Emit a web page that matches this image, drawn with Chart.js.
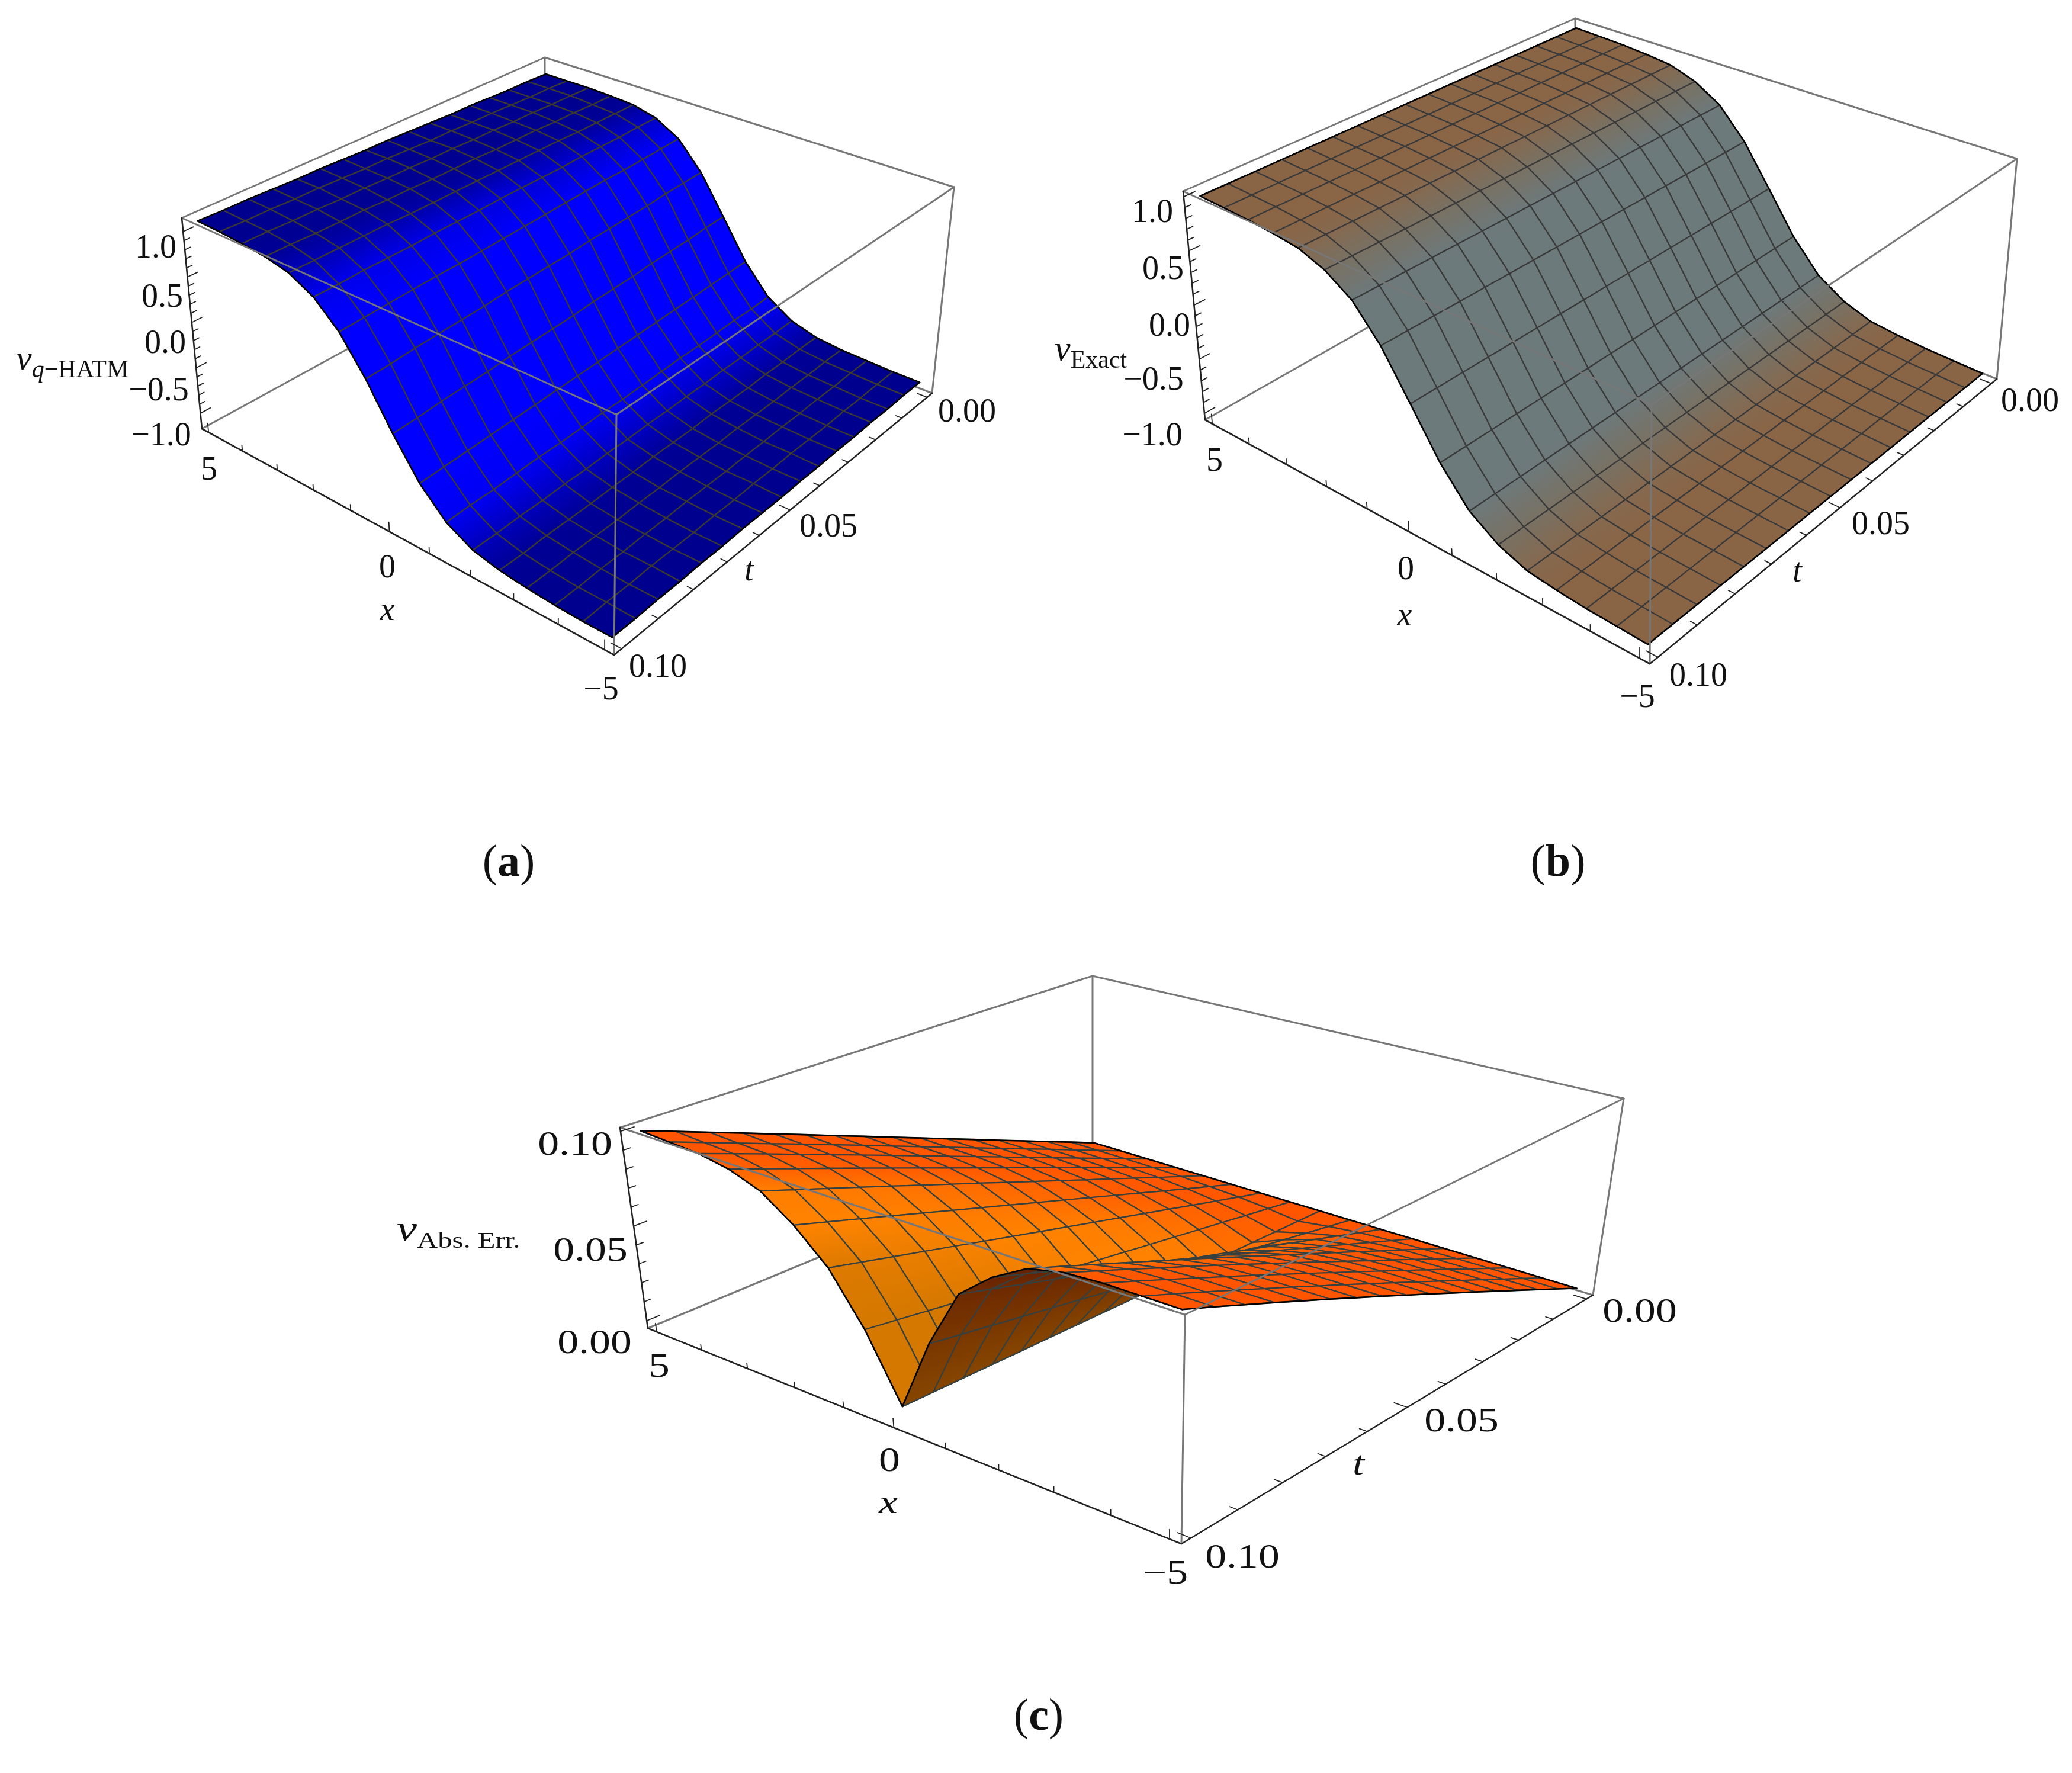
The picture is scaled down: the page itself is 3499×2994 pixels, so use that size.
<!DOCTYPE html>
<html>
<head>
<meta charset="utf-8">
<title>Surface plots</title>
<script src="https://cdn.jsdelivr.net/npm/chart.js@4/dist/chart.umd.js"></script>
<style>
    html, body { margin: 0; padding: 0; background: #fff; }
    canvas { display: block; }
</style>
</head>
<body>
<canvas id="chart" width="3499" height="2994"></canvas>
<script>
// ─────────────────────────────────────────────
// Three surface plots drawn as line datasets on one page-sized chart
// ─────────────────────────────────────────────

// Mesh nodes
const xGrid = [-5, -4.375, -3.75, -3.125, -2.5, -1.875, -1.25, -0.625, 0, 0.625, 1.25, 1.875, 2.5, 3.125, 3.75, 4.375, 5];
const tGrid = [0, 0.00625, 0.0125, 0.01875, 0.025, 0.03125, 0.0375, 0.04375, 0.05, 0.05625, 0.0625, 0.06875, 0.075, 0.08125, 0.0875, 0.09375, 0.1];

// Panel (a): one row per t, one column per x
const vHatm = [
    [-1.04, -1.04, -1.03, -1.02, -0.99, -0.91, -0.74, -0.43, 0, 0.43, 0.74, 0.90, 0.97, 0.99, 1.00, 1.00, 1.00],
    [-1.04, -1.04, -1.03, -1.02, -0.99, -0.92, -0.75, -0.44, -0.01, 0.42, 0.73, 0.90, 0.97, 0.99, 1.01, 1.01, 1.01],
    [-1.05, -1.05, -1.04, -1.03, -1.00, -0.92, -0.75, -0.45, -0.03, 0.41, 0.72, 0.89, 0.97, 1.00, 1.01, 1.01, 1.01],
    [-1.05, -1.05, -1.04, -1.03, -1.00, -0.93, -0.76, -0.46, -0.04, 0.39, 0.71, 0.89, 0.97, 1.00, 1.02, 1.02, 1.02],
    [-1.06, -1.06, -1.05, -1.04, -1.01, -0.93, -0.77, -0.47, -0.05, 0.38, 0.71, 0.89, 0.98, 1.01, 1.02, 1.03, 1.03],
    [-1.06, -1.06, -1.05, -1.04, -1.01, -0.94, -0.77, -0.48, -0.07, 0.37, 0.70, 0.88, 0.98, 1.01, 1.03, 1.03, 1.03],
    [-1.07, -1.06, -1.06, -1.04, -1.01, -0.94, -0.78, -0.49, -0.08, 0.36, 0.69, 0.88, 0.98, 1.01, 1.03, 1.04, 1.04],
    [-1.07, -1.07, -1.06, -1.05, -1.02, -0.95, -0.79, -0.50, -0.09, 0.34, 0.68, 0.88, 0.98, 1.02, 1.04, 1.04, 1.05],
    [-1.08, -1.07, -1.07, -1.05, -1.02, -0.95, -0.80, -0.51, -0.11, 0.33, 0.67, 0.88, 0.98, 1.02, 1.04, 1.05, 1.06],
    [-1.08, -1.08, -1.07, -1.05, -1.02, -0.96, -0.80, -0.52, -0.12, 0.32, 0.66, 0.87, 0.98, 1.02, 1.05, 1.06, 1.06],
    [-1.08, -1.08, -1.07, -1.06, -1.03, -0.96, -0.81, -0.53, -0.13, 0.31, 0.65, 0.87, 0.98, 1.03, 1.05, 1.06, 1.07],
    [-1.09, -1.09, -1.08, -1.06, -1.03, -0.97, -0.82, -0.54, -0.14, 0.29, 0.64, 0.87, 0.98, 1.03, 1.06, 1.07, 1.08],
    [-1.09, -1.09, -1.08, -1.07, -1.04, -0.97, -0.82, -0.55, -0.16, 0.28, 0.64, 0.86, 0.99, 1.04, 1.06, 1.08, 1.08],
    [-1.10, -1.09, -1.09, -1.07, -1.04, -0.98, -0.83, -0.56, -0.17, 0.27, 0.63, 0.86, 0.99, 1.04, 1.07, 1.08, 1.09],
    [-1.10, -1.10, -1.09, -1.07, -1.04, -0.98, -0.84, -0.57, -0.18, 0.26, 0.62, 0.86, 0.99, 1.04, 1.07, 1.09, 1.10],
    [-1.11, -1.10, -1.10, -1.08, -1.05, -0.99, -0.84, -0.58, -0.20, 0.24, 0.61, 0.85, 0.99, 1.05, 1.08, 1.09, 1.10],
    [-1.11, -1.11, -1.10, -1.08, -1.05, -0.99, -0.85, -0.59, -0.21, 0.23, 0.60, 0.85, 0.99, 1.05, 1.08, 1.10, 1.11],
];

// Panel (b): v read along x, no visible change along t
const vExact = [-1.00, -0.99, -0.98, -0.96, -0.93, -0.84, -0.68, -0.39, 0, 0.39, 0.68, 0.84, 0.93, 0.96, 0.98, 0.99, 1.00];

// Panel (c): one row per t, one column per x
const vAbsErr = [
    [0, 0, 0, 0, 0, 0, 0, 0, 0, 0, 0, 0, 0, 0, 0, 0, 0],
    [0.0063, 0.0063, 0.0063, 0.0062, 0.0059, 0.0053, 0.0044, 0.0026, 0.0003, 0.0023, 0.0038, 0.0048, 0.0056, 0.0059, 0.0061, 0.0062, 0.0063],
    [0.0125, 0.0125, 0.0125, 0.0124, 0.0119, 0.0106, 0.0089, 0.0051, 0.0005, 0.0045, 0.0076, 0.0096, 0.0111, 0.0119, 0.0123, 0.0124, 0.0125],
    [0.0188, 0.0188, 0.0188, 0.0186, 0.0178, 0.0159, 0.0133, 0.0077, 0.0008, 0.0068, 0.0114, 0.0144, 0.0167, 0.0178, 0.0184, 0.0186, 0.0188],
    [0.0250, 0.0250, 0.0250, 0.0248, 0.0238, 0.0213, 0.0178, 0.0103, 0.0010, 0.0090, 0.0153, 0.0193, 0.0223, 0.0238, 0.0245, 0.0248, 0.0250],
    [0.0313, 0.0313, 0.0313, 0.0309, 0.0297, 0.0266, 0.0222, 0.0128, 0.0013, 0.0113, 0.0191, 0.0241, 0.0278, 0.0297, 0.0306, 0.0309, 0.0313],
    [0.0375, 0.0375, 0.0375, 0.0371, 0.0356, 0.0319, 0.0266, 0.0154, 0.0015, 0.0135, 0.0229, 0.0289, 0.0334, 0.0356, 0.0368, 0.0371, 0.0375],
    [0.0438, 0.0438, 0.0438, 0.0433, 0.0416, 0.0372, 0.0311, 0.0179, 0.0018, 0.0158, 0.0267, 0.0337, 0.0389, 0.0416, 0.0429, 0.0433, 0.0438],
    [0.0500, 0.0500, 0.0500, 0.0495, 0.0475, 0.0425, 0.0355, 0.0205, 0.0020, 0.0180, 0.0305, 0.0385, 0.0445, 0.0475, 0.0490, 0.0495, 0.0500],
    [0.0563, 0.0563, 0.0563, 0.0557, 0.0534, 0.0478, 0.0399, 0.0231, 0.0023, 0.0203, 0.0343, 0.0433, 0.0501, 0.0534, 0.0551, 0.0557, 0.0563],
    [0.0625, 0.0625, 0.0625, 0.0619, 0.0594, 0.0531, 0.0444, 0.0256, 0.0025, 0.0225, 0.0381, 0.0481, 0.0556, 0.0594, 0.0613, 0.0619, 0.0625],
    [0.0688, 0.0688, 0.0688, 0.0681, 0.0653, 0.0584, 0.0488, 0.0282, 0.0028, 0.0248, 0.0419, 0.0529, 0.0612, 0.0653, 0.0674, 0.0681, 0.0688],
    [0.0750, 0.0750, 0.0750, 0.0743, 0.0713, 0.0638, 0.0533, 0.0308, 0.0030, 0.0270, 0.0458, 0.0578, 0.0668, 0.0713, 0.0735, 0.0743, 0.0750],
    [0.0813, 0.0813, 0.0813, 0.0804, 0.0772, 0.0691, 0.0577, 0.0333, 0.0033, 0.0293, 0.0496, 0.0626, 0.0723, 0.0772, 0.0796, 0.0804, 0.0813],
    [0.0875, 0.0875, 0.0875, 0.0866, 0.0831, 0.0744, 0.0621, 0.0359, 0.0035, 0.0315, 0.0534, 0.0674, 0.0779, 0.0831, 0.0858, 0.0866, 0.0875],
    [0.0938, 0.0938, 0.0938, 0.0928, 0.0891, 0.0797, 0.0666, 0.0384, 0.0038, 0.0338, 0.0572, 0.0722, 0.0834, 0.0891, 0.0919, 0.0928, 0.0938],
    [0.1000, 0.1000, 0.1000, 0.0990, 0.0950, 0.0850, 0.0710, 0.0410, 0.0040, 0.0360, 0.0610, 0.0770, 0.0890, 0.0950, 0.0980, 0.0990, 0.1000],
];

// Axis ticks
const xTicks = [-5, -4, -3, -2, -1, 0, 1, 2, 3, 4, 5];
const xMajor = [-5, 0, 5];
const tTicks = [0, 0.01, 0.02, 0.03, 0.04, 0.05, 0.06, 0.07, 0.08, 0.09, 0.1];
const tMajor = [0, 0.05, 0.1];
const vTicks = [-1, -0.9, -0.8, -0.7, -0.6, -0.5, -0.4, -0.3, -0.2, -0.1, 0, 0.1, 0.2, 0.3, 0.4, 0.5, 0.6, 0.7, 0.8, 0.9, 1];
const vMajor = [-1, -0.5, 0, 0.5, 1];
const errTicks = [0, 0.01, 0.02, 0.03, 0.04, 0.05, 0.06, 0.07, 0.08, 0.09, 0.1];
const errMajor = [0, 0.05, 0.1];

// Tick labels
const xLabels = ["\u22125", "0", "5"];
const tLabels = ["0.00", "0.05", "0.10"];
const vLabels = ["\u22121.0", "\u22120.5", "0.0", "0.5", "1.0"];
const errLabels = ["0.00", "0.05", "0.10"];

// ═══════════════════════════════════════════════
// PANEL LAYOUT — box corners and text spots on the page
// ═══════════════════════════════════════════════
const SERIF = '"Liberation Serif"';

const PANELS = [
    {
        rows: vHatm,
        zRange: [-1.17, 1.15],
        zTicks: vTicks, zMajor: vMajor,
        bottom: { bl: [341, 724], f: [1037, 1106], br: [1574, 664], bb: [920, 407] },
        top:    { bl: [307, 368], f: [1041, 700],  br: [1611, 316], bb: [920, 97] },
        palette: { flat: [0, 0, 143], steep: [0, 0, 255] },
        mesh: "#3d3a30",
        zText: vLabels,
        zPos: [[272, 737], [268, 661], [279, 581], [274, 503], [263, 420]],
        xPos: [[1015, 1166], [654, 960], [353, 795]],
        tPos: [[1633, 697], [1399, 891], [1111, 1128]],
        xName: [654, 1032], tName: [1265, 965],
        vName: { x: 27, y: 612, size: 42, sub: [{ t: "q", italic: true }, { t: "\u2212HATM" }] },
        caption: { t: "a", x: 859, y: 1459 },
        textStretch: 1,
    },
    {
        rows: tGrid.map(() => vExact),
        zRange: [-1.06, 1.05],
        zTicks: vTicks, zMajor: vMajor,
        bottom: { bl: [2035, 709], f: [2786, 1121], br: [3372, 640], bb: [2660, 354] },
        top:    { bl: [1998, 323], f: [2789, 683],  br: [3406, 268], bb: [2660, 31] },
        palette: { flat: [138, 101, 69], steep: [108, 122, 124] },
        mesh: "#3a3a3a",
        zText: vLabels,
        zPos: [[1946, 737], [1948, 643], [1975, 552], [1964, 456], [1946, 360]],
        xPos: [[2765, 1179], [2374, 963], [2051, 780]],
        tPos: [[3428, 679], [3176, 887], [2868, 1143]],
        xName: [2372, 1041], tName: [3035, 967],
        vName: { x: 1781, y: 596, size: 42, sub: [{ t: "Exact" }] },
        caption: { t: "b", x: 2631, y: 1459 },
        textStretch: 1,
    },
    {
        rows: vAbsErr,
        zRange: [-0.004, 0.102],
        zTicks: errTicks, zMajor: errMajor,
        bottom: { bl: [1094, 2243], f: [1995, 2607], br: [2690, 2187], bb: [1845, 1931] },
        top:    { bl: [1047, 1904], f: [2001, 2220], br: [2742, 1855], bb: [1845, 1648] },
        palette: { flat: [255, 85, 0], steep: [255, 132, 0], deep: [212, 120, 0], backFlat: [135, 72, 0], backSteep: [100, 30, 0] },
        mesh: "#36403f",
        zText: errLabels,
        zPos: [[1004, 2270], [997, 2114], [971, 1935]],
        xPos: [[1968, 2659], [1502, 2469], [1113, 2310]],
        tPos: [[2769, 2217], [2468, 2402], [2098, 2632]],
        xName: [1500, 2540], tName: [2294, 2475],
        vName: { x: 670, y: 2082, size: 38, sub: [{ t: "Abs. Err." }] },
        caption: { t: "c", x: 1754, y: 2901 },
        textStretch: 1.28,
    },
];

const X_BOX = [-5.2, 5.2];
const T_BOX = [-0.002, 0.102];

// ═══════════════════════════════════════════════
// PROJECTION — plot coordinates to page coordinates
// ═══════════════════════════════════════════════

// Unit square to quad, corners at (0,0) (1,0) (1,1) (0,1)
function squareToQuad(p00, p10, p11, p01) {
    const dx1 = p10[0] - p11[0], dx2 = p01[0] - p11[0], sx = p00[0] - p10[0] + p11[0] - p01[0];
    const dy1 = p10[1] - p11[1], dy2 = p01[1] - p11[1], sy = p00[1] - p10[1] + p11[1] - p01[1];
    const det = dx1 * dy2 - dx2 * dy1;
    const g = (sx * dy2 - dx2 * sy) / det;
    const h = (dx1 * sy - sx * dy1) / det;
    const a = p10[0] - p00[0] + g * p10[0], b = p01[0] - p00[0] + h * p01[0];
    const d = p10[1] - p00[1] + g * p10[1], e = p01[1] - p00[1] + h * p01[1];
    return (u, w) => {
        const q = g * u + h * w + 1;
        return [(a * u + b * w + p00[0]) / q, (d * u + e * w + p00[1]) / q];
    };
}

function makeProjector(panel) {
    const low  = squareToQuad(panel.bottom.bb, panel.bottom.br, panel.bottom.f, panel.bottom.bl);
    const high = squareToQuad(panel.top.bb, panel.top.br, panel.top.f, panel.top.bl);
    const [zMin, zMax] = panel.zRange;
    return (x, t, z) => {
        const u = (X_BOX[1] - x) / (X_BOX[1] - X_BOX[0]);
        const w = (t - T_BOX[0]) / (T_BOX[1] - T_BOX[0]);
        const q = (z - zMin) / (zMax - zMin);
        const a = low(u, w), b = high(u, w);
        return { x: a[0] + (b[0] - a[0]) * q, y: a[1] + (b[1] - a[1]) * q };
    };
}

// ═══════════════════════════════════════════════
// SHADING
// ═══════════════════════════════════════════════
const mix = (a, b, k) => a.map((v, i) => Math.round(v + (b[i] - v) * k));
const css = c => `rgb(${c[0]},${c[1]},${c[2]})`;

// Steepness along x at one node, in box units. Larger side wins so the cusp in (c) stays steep.
function slopeAt(panel, j, i) {
    const row = panel.rows[j];
    const left = i > 0 ? Math.abs(row[i] - row[i - 1]) : 0;
    const right = i < row.length - 1 ? Math.abs(row[i + 1] - row[i]) : 0;
    const dz = Math.max(left, right) / (panel.zRange[1] - panel.zRange[0]);
    const dx = 0.625 / (X_BOX[1] - X_BOX[0]);
    return dz / dx;
}

function shade(panel, i, j, backside) {
    const pal = panel.palette;
    const p = (slopeAt(panel, j, i) + slopeAt(panel, j + 1, i)) / 2;
    if (backside) {
        // Underside gets darker toward the crest of the front edge
        const front = panel.rows[panel.rows.length - 1];
        return mix(pal.backFlat, pal.backSteep, front[i] / Math.max(...front));
    }
    let c = mix(pal.flat, pal.steep, 1 - Math.exp(-Math.pow(p, 2.5) * 0.45));
    if (pal.deep && p > 2.6) c = mix(c, pal.deep, Math.min((p - 2.6) / 1.5, 1));
    return c;
}

// ═══════════════════════════════════════════════
// DATASETS
// ═══════════════════════════════════════════════
function lineSet(points, color, width) {
    return {
        type: "line", data: points, borderColor: color, borderWidth: width,
        pointRadius: 0, fill: false, tension: 0, borderCapStyle: "round", borderJoinStyle: "round",
    };
}

function quadSet(panel, project, i, j) {
    const z = panel.rows;
    const a = project(xGrid[i], tGrid[j], z[j][i]);
    const b = project(xGrid[i + 1], tGrid[j], z[j][i + 1]);
    const c = project(xGrid[i + 1], tGrid[j + 1], z[j + 1][i + 1]);
    const d = project(xGrid[i], tGrid[j + 1], z[j + 1][i]);

    // Mesh goes x+ then t+, so a positive area means we see the underside
    const area = (c.x - a.x) * (d.y - b.y) - (d.x - b.x) * (c.y - a.y);
    const backside = area > 0;
    const c0 = css(shade(panel, i, j, backside));
    const c1 = css(shade(panel, i + 1, j, backside));

    // Gradient runs across the constant-x edges
    const m0 = { x: (a.x + d.x) / 2, y: (a.y + d.y) / 2 };
    const m1 = { x: (b.x + c.x) / 2, y: (b.y + c.y) / 2 };
    const ex = d.x - a.x, ey = d.y - a.y, el = (ex * ex + ey * ey) || 1;
    const along = ((m1.x - m0.x) * ex + (m1.y - m0.y) * ey) / el;
    const g1 = { x: m1.x - along * ex, y: m1.y - along * ey };

    return {
        type: "line",
        data: [a, b, c, d, a],
        borderColor: panel.mesh,
        borderWidth: 2.2,
        pointRadius: 0,
        tension: 0,
        fill: "shape",
        borderJoinStyle: "round",
        backgroundColor: ctx => {
            const sx = ctx.chart.scales.x, sy = ctx.chart.scales.y;
            const x0 = sx.getPixelForValue(m0.x), y0 = sy.getPixelForValue(m0.y);
            const x1 = sx.getPixelForValue(g1.x), y1 = sy.getPixelForValue(g1.y);
            // scales have no size yet on the very first resolve
            if (![x0, y0, x1, y1].every(Number.isFinite)) return c0;
            const grad = ctx.chart.ctx.createLinearGradient(x0, y0, x1, y1);
            grad.addColorStop(0, c0);
            grad.addColorStop(1, c1);
            return grad;
        },
    };
}

function tickSets(panel, project) {
    const sets = [];
    const [zMin, zMax] = panel.zRange;
    const zSpan = zMax - zMin, tSpan = T_BOX[1] - T_BOX[0], xSpan = X_BOX[1] - X_BOX[0];
    xTicks.forEach(v => {
        const len = (xMajor.includes(v) ? 0.042 : 0.026) * zSpan;
        sets.push(lineSet([project(v, T_BOX[1], zMin), project(v, T_BOX[1], zMin + len)], "#222", 1.8));
    });
    tTicks.forEach(v => {
        const len = (tMajor.includes(v) ? 0.022 : 0.013) * xSpan;
        sets.push(lineSet([project(X_BOX[0], v, zMin), project(X_BOX[0] + len, v, zMin)], "#222", 1.8));
    });
    panel.zTicks.forEach(v => {
        const len = (panel.zMajor.includes(v) ? 0.024 : 0.013) * tSpan;
        sets.push(lineSet([project(X_BOX[1], T_BOX[1], v), project(X_BOX[1], T_BOX[1] - len, v)], "#222", 1.8));
    });
    return sets;
}

function panelSets(panel) {
    const project = makeProjector(panel);
    const { bottom: lo, top: hi } = panel;
    const pt = p => ({ x: p[0], y: p[1] });
    const GRAY = "#777", AXIS = "#222";
    const sets = [];

    // Box edges behind the surface
    sets.push(lineSet([pt(lo.bl), pt(lo.bb), pt(lo.br)], GRAY, 3));
    sets.push(lineSet([pt(lo.bb), pt(hi.bb)], GRAY, 3));
    sets.push(lineSet([pt(hi.bl), pt(hi.bb), pt(hi.br)], GRAY, 3));
    sets.push(lineSet([pt(lo.br), pt(hi.br)], GRAY, 3));

    // Surface, far corner first (x high, t low)
    for (let i = xGrid.length - 2; i >= 0; i--) {
        for (let j = 0; j < tGrid.length - 1; j++) {
            sets.push(quadSet(panel, project, i, j));
        }
    }

    // Surface outline
    const last = tGrid.length - 1, end = xGrid.length - 1;
    const z = panel.rows;
    sets.push(lineSet(tGrid.map((t, j) => project(xGrid[end], t, z[j][end])), "#000", 2.6));
    sets.push(lineSet(tGrid.map((t, j) => project(xGrid[0], t, z[j][0])), "#000", 2.6));
    sets.push(lineSet(xGrid.map((x, i) => project(x, tGrid[0], z[0][i])), "#000", 2.6));
    sets.push(lineSet(xGrid.map((x, i) => project(x, tGrid[last], z[last][i])), "#000", 2.6));

    // Box edges in front, then the three axes
    sets.push(lineSet([pt(hi.bl), pt(hi.f), pt(hi.br)], GRAY, 3));
    sets.push(lineSet([pt(hi.f), pt(lo.f)], GRAY, 3));
    sets.push(lineSet([pt(hi.bl), pt(lo.bl), pt(lo.f), pt(lo.br)], AXIS, 2.6));
    sets.push(...tickSets(panel, project));
    return sets;
}

// ═══════════════════════════════════════════════
// TEXT
// ═══════════════════════════════════════════════
function drawRuns(ctx, runs, x, y) {
    let cx = x;
    runs.forEach(r => {
        ctx.font = r.font;
        ctx.fillText(r.t, cx, y + (r.dy || 0));
        cx += ctx.measureText(r.t).width;
    });
}

function centeredText(ctx, text, x, y, font, stretch) {
    ctx.save();
    ctx.translate(x, y);
    ctx.scale(stretch, 1);
    ctx.font = font;
    ctx.textAlign = "center";
    ctx.textBaseline = "middle";
    ctx.fillText(text, 0, 0);
    ctx.restore();
}

const textPlugin = {
    id: "panelText",
    afterDraw(chart) {
        const ctx = chart.ctx;
        const sx = chart.scales.x, sy = chart.scales.y;
        const px = v => sx.getPixelForValue(v), py = v => sy.getPixelForValue(v);
        ctx.save();
        ctx.fillStyle = "#111";
        PANELS.forEach(panel => {
            const k = panel.textStretch;
            const tickFont = `56px ${SERIF}`;
            panel.zText.forEach((s, n) => centeredText(ctx, s, px(panel.zPos[n][0]), py(panel.zPos[n][1]), tickFont, k));
            xLabels.forEach((s, n) => centeredText(ctx, s, px(panel.xPos[n][0]), py(panel.xPos[n][1]), tickFont, k));
            tLabels.forEach((s, n) => centeredText(ctx, s, px(panel.tPos[n][0]), py(panel.tPos[n][1]), tickFont, k));
            const nameFont = `italic 56px ${SERIF}`;
            centeredText(ctx, "x", px(panel.xName[0]), py(panel.xName[1]), nameFont, k);
            centeredText(ctx, "t", px(panel.tName[0]), py(panel.tName[1]), nameFont, k);

            // v with its subscript
            const name = panel.vName;
            ctx.save();
            ctx.translate(px(name.x), py(name.y));
            ctx.scale(k, 1);
            ctx.textAlign = "left";
            ctx.textBaseline = "alphabetic";
            const runs = [{ t: "v", font: `italic 60px ${SERIF}` }];
            name.sub.forEach(s => runs.push({ t: s.t, font: `${s.italic ? "italic " : ""}${name.size}px ${SERIF}`, dy: 13 }));
            drawRuns(ctx, runs, 0, 12);
            ctx.restore();

            // Caption: (a) with a bold letter
            const c = panel.caption;
            ctx.save();
            ctx.textAlign = "left";
            ctx.textBaseline = "middle";
            ctx.font = `76px ${SERIF}`;
            const open = ctx.measureText("(").width;
            ctx.font = `bold 76px ${SERIF}`;
            const letter = ctx.measureText(c.t).width;
            drawRuns(ctx, [
                { t: "(", font: `76px ${SERIF}` },
                { t: c.t, font: `bold 76px ${SERIF}` },
                { t: ")", font: `76px ${SERIF}` },
            ], px(c.x) - open - letter / 2, py(c.y));
            ctx.restore();
        });
        ctx.restore();
    },
};

// ═══════════════════════════════════════════════
// INIT
// ═══════════════════════════════════════════════

// Chart.js paints the first dataset last, so flip the painter's order
const allSets = PANELS.flatMap(panelSets).reverse();

new Chart(document.getElementById("chart"), {
    type: "line",
    data: { datasets: allSets },
    options: {
        responsive: false,
        animation: false,
        events: [],
        parsing: false,
        normalized: false,
        layout: { padding: 0 },
        plugins: { legend: { display: false }, tooltip: { enabled: false }, title: { display: false } },
        scales: {
            x: { type: "linear", display: false, min: 0, max: 3499 },
            y: { type: "linear", display: false, min: 0, max: 2994, reverse: true },
        },
    },
    plugins: [textPlugin],
});
</script>
</body>
</html>
